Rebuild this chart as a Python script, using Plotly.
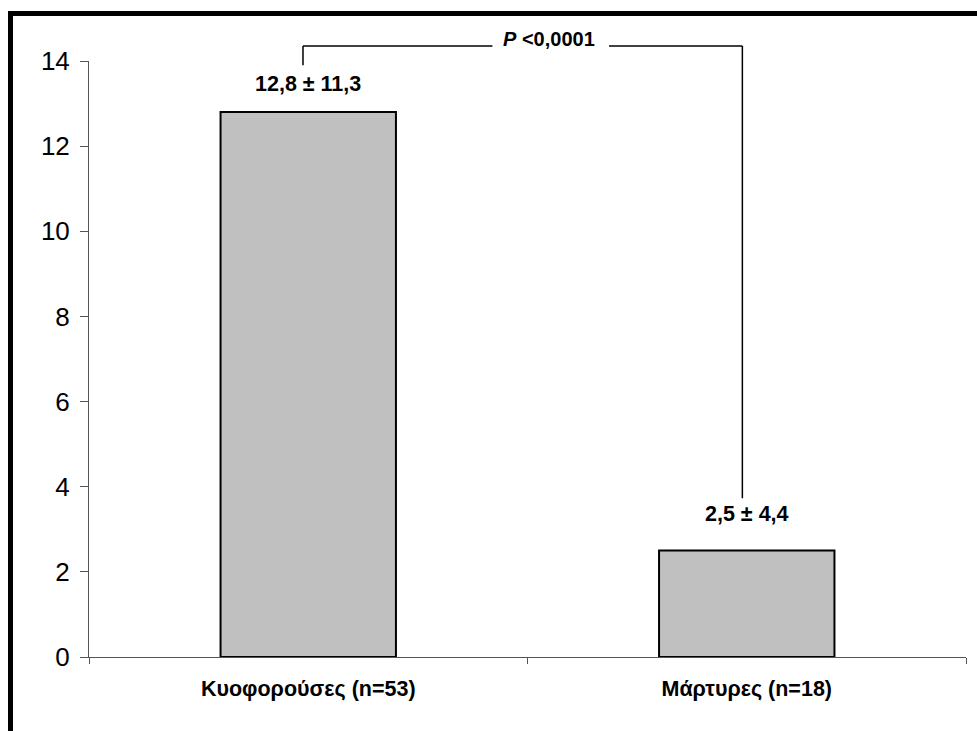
import plotly.graph_objects as go

# Groups and their mean ± SD
groups = ["Κυοφορούσες (n=53)", "Μάρτυρες (n=18)"]
means = [12.8, 2.5]
sds = [11.3, 4.4]
y_ticks = [0, 2, 4, 6, 8, 10, 12, 14]
p_text = "<i>P</i> <0,0001"

Y_MAX = 14


def fmt(v):
    return f"{v:.1f}".replace(".", ",")


def px(c):
    # category position -> paper x
    return (c + 0.5) / 2


def py(v):
    # value -> paper y
    return v / Y_MAX


FONT = "Arial, 'Liberation Sans', sans-serif"

fig = go.Figure(
    go.Bar(
        x=groups,
        y=means,
        width=0.4,
        marker=dict(color="#C0C0C0", line=dict(color="black", width=2)),
        hoverinfo="skip",
    )
)

# mean ± SD labels above the bars
label_y = [13.47, 3.36]
for g, m, s, ly in zip(groups, means, sds, label_y):
    fig.add_annotation(
        x=g, y=ly, text=f"<b>{fmt(m)} ± {fmt(s)}</b>", showarrow=False,
        font=dict(family=FONT, size=21.5, color="black"),
        xanchor="center", yanchor="middle",
    )

# significance bracket between the two groups
bx = [-0.012, 0.99]
top = 14.35
line = dict(color="black", width=1.5)
segments = [
    (bx[0], bx[0], 13.9, top),
    (bx[0], 0.42, top, top),
    (0.686, bx[1], top, top),
    (bx[1], bx[1], 3.73, top),
]
for x0, x1, y0, y1 in segments:
    fig.add_shape(type="line", xref="paper", yref="paper",
                  x0=px(x0), x1=px(x1), y0=py(y0), y1=py(y1), line=line)
fig.add_annotation(
    x=px(0.548), y=py(top + 0.17), xref="paper", yref="paper",
    text=f"<b>{p_text}</b>", showarrow=False,
    font=dict(family=FONT, size=20, color="black"), xanchor="center", yanchor="middle",
)

# heavy frame along the top and left edges
fig.add_shape(
    type="rect", xref="paper", yref="paper",
    x0=-0.0895, x1=1.3, y0=-0.3, y1=1.0797,
    line=dict(color="black", width=5), fillcolor="rgba(0,0,0,0)", layer="above",
)

fig.update_layout(
    width=977, height=731,
    margin=dict(l=89, r=11, t=61, b=74),
    paper_bgcolor="white", plot_bgcolor="white",
    showlegend=False,
    font=dict(family=FONT, color="black"),
    xaxis=dict(
        type="category", tickvals=groups,
        ticktext=[f"<b>{g}</b>" for g in groups],
        tickfont=dict(size=21.5, family=FONT, color="black"),
        showline=True, linecolor="#555555", linewidth=1,
        ticks="outside", tickson="boundaries", ticklen=6, tickcolor="#555555",
        ticklabelstandoff=12,
        showgrid=False, zeroline=False, range=[-0.5, 1.5],
    ),
    yaxis=dict(
        range=[0, Y_MAX], tickvals=y_ticks,
        tickfont=dict(size=26, family=FONT, color="black"),
        showline=True, linecolor="#555555", linewidth=1,
        ticks="outside", ticklen=8, tickcolor="#555555",
        ticklabelstandoff=5,
        showgrid=False, zeroline=False,
    ),
)

fig.write_html("out.html")
